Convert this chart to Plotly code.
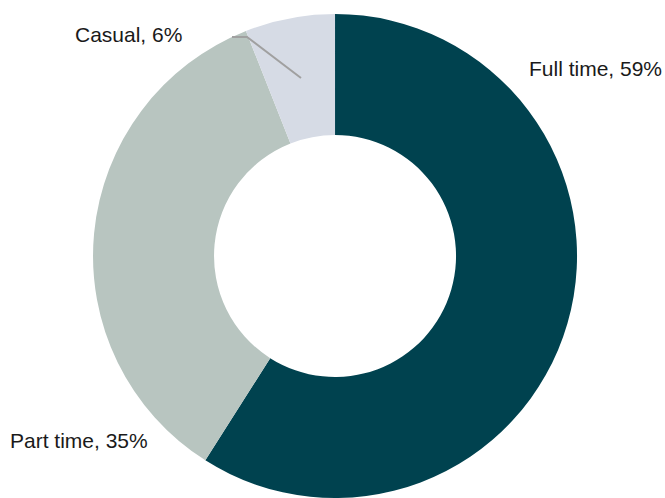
import plotly.graph_objects as go

# Employment type shares (%)
categories = ["Full time", "Part time", "Casual"]
shares = [59, 35, 6]
colors = ["#00424F", "#B8C5C0", "#D6DBE5"]

W, H = 665, 498

fig = go.Figure(
    go.Pie(
        labels=categories,
        values=shares,
        hole=0.5,
        sort=False,
        direction="clockwise",
        rotation=0,
        marker=dict(colors=colors, line=dict(width=0)),
        textinfo="none",
        hoverinfo="label+percent",
        domain=dict(x=[0.1038, 0.9038], y=[0.0, 0.9719]),
        showlegend=False,
    )
)

# Outside labels: (left x px, centre y px) per category
label_pos = {"Full time": (527, 69), "Part time": (8, 440), "Casual": (73, 35)}
for name, val in zip(categories, shares):
    lx, ly = label_pos[name]
    fig.add_annotation(
        text=f"{name}, {val}%",
        x=lx / W, y=1 - ly / H,
        xref="paper", yref="paper",
        xanchor="left", yanchor="middle",
        showarrow=False,
        font=dict(family="Liberation Sans, Arial, sans-serif", size=21, color="#1a1a1a"),
    )

# Leader line for the small Casual slice
pts = [(232, 37), (247, 37), (301, 78)]
path = "M " + " L ".join(f"{x / W},{1 - y / H}" for x, y in pts)
fig.add_shape(type="path", path=path, xref="paper", yref="paper",
              line=dict(color="#A0A0A0", width=2))

fig.update_layout(
    width=W, height=H,
    margin=dict(l=0, r=0, t=0, b=0),
    paper_bgcolor="white",
    plot_bgcolor="white",
)

fig.write_html("out.html")
